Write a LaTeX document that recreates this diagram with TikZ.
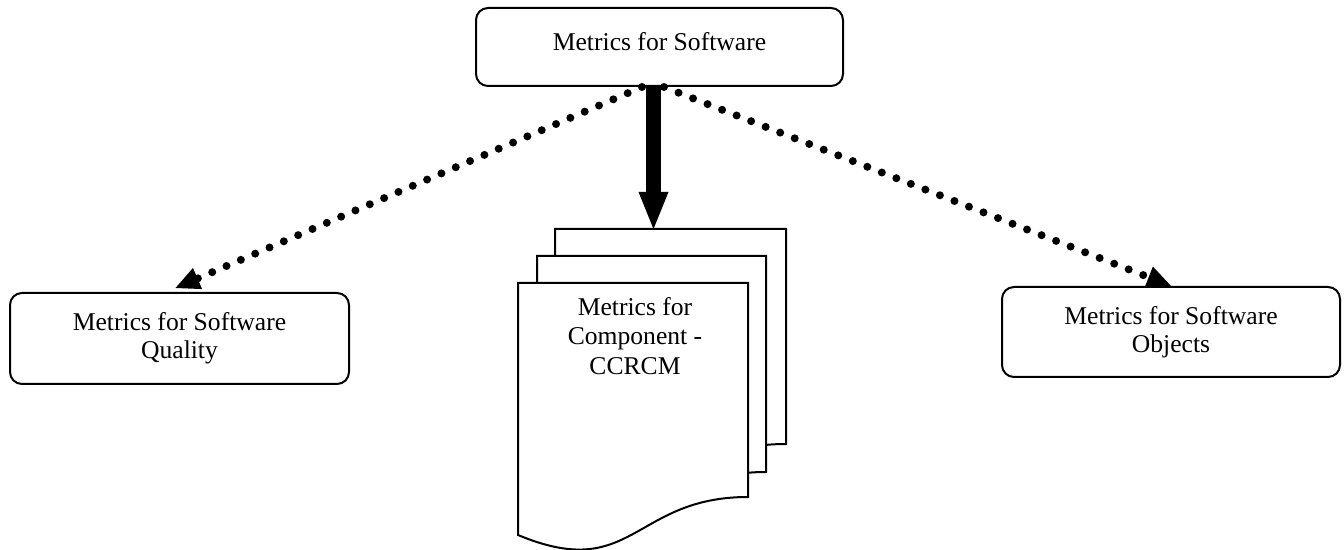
\documentclass[tikz,border=0pt]{standalone}
\usepackage{fontspec}
\setmainfont{Liberation Serif}
\usetikzlibrary{arrows.meta}
\begin{document}
\begin{tikzpicture}[x=0.5pt,y=-0.5pt,
  box/.style={draw, line width=1pt, rounded corners=6pt, fill=white, align=center, inner sep=0pt,
              font=\fontsize{12.8}{14.2}\selectfont},
  txt/.style={align=center, inner sep=0pt, font=\fontsize{12.8}{14.8}\selectfont},
  page/.style={draw, line width=1pt, fill=white, line join=miter},
  dotarrow/.style={line width=4pt, line cap=round, dash pattern=on 0pt off 7.8pt,
                   -{Triangle[length=12pt,width=11.5pt,line width=0pt]}},
  bigarrow/.style={line width=7.5pt, -{Triangle[length=18.5pt,width=15pt,line width=0pt]}}]
\useasboundingbox (0,0) rectangle (1344,550);

% document stack
\draw[page] (555,229) -- (786,229) -- (786,444) .. controls (670,444) and (670,530) .. (555,482) -- cycle;
\draw[page] (537,256) -- (766,256) -- (766,472) .. controls (651,472) and (651,558) .. (537,510) -- cycle;
\draw[page] (518,283) -- (748,283) -- (748,497) .. controls (633,497) and (633,583) .. (518,535) -- cycle;
\node[txt] (doc) at (635,336) {Metrics for\\Component -\\CCRCM};
\coordinate (doctop) at (653.5,229);

% boxes
\node[box, minimum width=183.5pt, minimum height=39pt] (top) at (659.5,47) {};
\node[txt] (toptext) at (659.5,42) {Metrics for Software};
\node[box, minimum width=169.5pt, minimum height=45.5pt] (qual) at (179.5,338.5) {Metrics for Software\\Quality};
\node[box, minimum width=169pt, minimum height=45pt] (obj) at (1171,332) {Metrics for Software\\Objects};

% connectors
\draw[bigarrow] ([xshift=-3pt]top.south) -- (doctop);
\draw[dotarrow] ([xshift=-8.75pt]top.south) -- ([xshift=-2pt,yshift=2pt]qual.north);
\draw[dotarrow] ([xshift=2.25pt]top.south) -- (obj.north);
\end{tikzpicture}
\end{document}
